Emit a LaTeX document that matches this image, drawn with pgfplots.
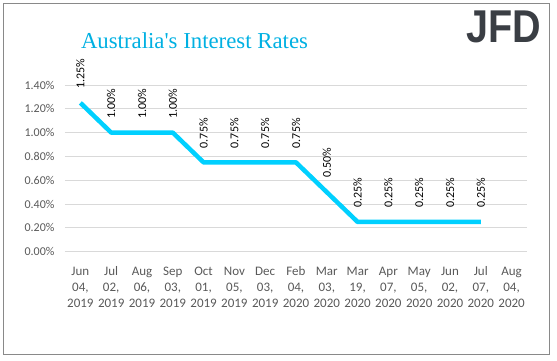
\documentclass[border=0pt]{standalone}
\usepackage{pgfplots}
\pgfplotsset{compat=1.18}
\usepackage{fontspec}
\setmainfont{Carlito}
\newfontfamily\titlefont{Liberation Serif}
\newfontfamily\logofont{Liberation Sans}
\definecolor{tickgray}{RGB}{89,89,89}
\definecolor{gridgray}{RGB}{217,217,217}
\definecolor{framegray}{RGB}{137,137,137}
\definecolor{linecyan}{RGB}{0,208,255}
\definecolor{titlecyan}{RGB}{0,176,226}
\definecolor{logogray}{RGB}{58,62,68}
\begin{document}
\begin{tikzpicture}[x=1pt,y=1pt]
\path[use as bounding box] (0,0) rectangle (557,361);
\draw[framegray, line width=1pt] (3,357) rectangle (549,6);
\node[anchor=base, text=titlecyan, inner sep=0pt] at (194.5,312.7) {\titlefont\fontsize{22.8}{24}\selectfont Australia's Interest Rates};
\node[anchor=base east, text=logogray, inner sep=0pt] at (541,318) {\scalebox{0.86}[1]{\logofont\bfseries\fontsize{46}{48}\selectfont JFD}};
\begin{axis}[
  at={(65pt,109.3pt)}, anchor=south west,
  scale only axis, width=462pt, height=166.7pt,
  xmin=-0.5, xmax=14.5, ymin=0, ymax=1.4,
  clip=false,
  axis line style={draw=none},
  major tick length=0pt,
  ymajorgrids, grid style={gridgray, line width=0.8pt},
  ytick={0,0.2,0.4,0.6,0.8,1.0,1.2,1.4},
  yticklabel={\pgfmathprintnumber[fixed,fixed zerofill,precision=2,assume math mode=true]{\tick}\%},
  yticklabel style={text=tickgray, font=\fontsize{12}{14}\selectfont, xshift=-7pt},
  xtick={0,...,14},
  typeset ticklabels with strut,
  xticklabels={{Jun\\04,\\2019},{Jul\\02,\\2019},{Aug\\06,\\2019},{Sep\\03,\\2019},{Oct\\01,\\2019},{Nov\\05,\\2019},{Dec\\03,\\2019},{Feb\\04,\\2020},{Mar\\03,\\2020},{Mar\\19,\\2020},{Apr\\07,\\2020},{May\\05,\\2020},{Jun\\02,\\2020},{Jul\\07,\\2020},{Aug\\04,\\2020}},
  xticklabel style={align=center, text=tickgray, font=\fontsize{13}{16.2}\selectfont, yshift=-8.5pt},
]
\addplot[linecyan, line width=4.5pt, line join=round, line cap=butt,
  nodes near coords={\pgfmathprintnumber[fixed,fixed zerofill,precision=2,assume math mode=true]{\pgfplotspointmeta}\%},
  every node near coord/.style={rotate=90, anchor=west, text=black, inner ysep=0pt, inner xsep=12pt, font=\fontsize{12}{14}\selectfont}]
coordinates {
(0,1.25) (1,1.00) (2,1.00) (3,1.00) (4,0.75) (5,0.75) (6,0.75) (7,0.75)
(8,0.50) (9,0.25) (10,0.25) (11,0.25) (12,0.25) (13,0.25)
};
\end{axis}
\end{tikzpicture}
\end{document}
